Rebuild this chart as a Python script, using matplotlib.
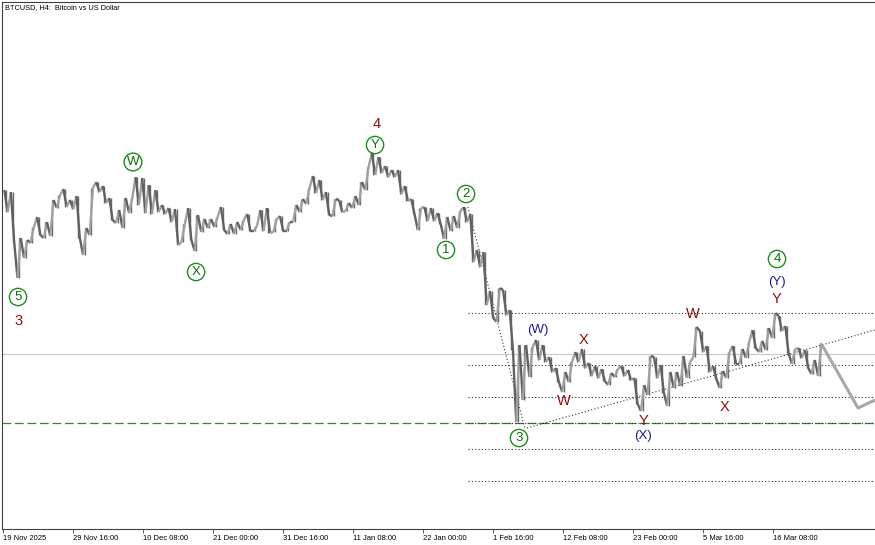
import matplotlib
matplotlib.use('Agg')
import matplotlib.pyplot as plt
from matplotlib.collections import LineCollection
import numpy as np

plt.rcParams['font.family'] = ['Liberation Sans', 'DejaVu Sans']

# daily high / low, 19 Nov 2025 .. 23 Mar 2026
highs = [93400, 93120, 86680, 86400, 88220, 89620, 88920, 92000, 92700, 93540,
         92000, 92560, 88080, 93680, 94520, 93960, 92280, 90600, 92280, 92280,
         95220, 95080, 94100, 93400, 91300, 90880, 90740, 88640, 90880, 89900,
         89340, 89340, 89620, 91020, 88640, 88920, 89200, 90040, 88360, 90600,
         90880, 89340, 89760, 88920, 91300, 92140, 93680, 95360, 94800, 93120,
         92140, 92000, 91580, 92560, 94520, 96620, 98580, 98020, 96760, 96200,
         96200, 93960, 92140, 90880, 91020, 90880, 90180, 89620, 89760, 90460,
         91020, 90040, 85000, 84720, 79260, 79680, 79400, 76600, 71700, 71700,
         71420, 72400, 71700, 70020, 68480, 67920, 69320, 70720, 71140, 69180,
         68760, 68340, 67780, 68340, 68760, 68200, 67080, 66100, 70160, 70020,
         68900, 67920, 67920, 70160, 69320, 74220, 73660, 71560, 68760, 68060,
         70720, 71560, 71140, 72120, 73800, 72260, 74080, 76180, 75760, 74360,
         71140, 71280, 71000, 69600, 71980]
lows = [90320, 86120, 81080, 83880, 85980, 87100, 86680, 86960, 90880, 91020,
        90740, 86680, 84300, 87100, 93120, 91580, 89200, 88780, 88080, 90180,
        91300, 90180, 90040, 90320, 90040, 88920, 85700, 86120, 86400, 84860,
        87520, 88080, 88220, 87800, 87240, 87240, 87800, 87660, 87660, 87660,
        87380, 87520, 87660, 87660, 88920, 90320, 91440, 92980, 92000, 89900,
        89760, 90320, 90460, 90880, 91300, 93400, 95500, 95780, 95220, 95220,
        92840, 91860, 90040, 87800, 89060, 89060, 88640, 86540, 87660, 88080,
        88920, 83320, 82620, 77300, 75480, 74920, 75900, 71000, 60920, 64000,
        67220, 69600, 69320, 67920, 66520, 65120, 66520, 69320, 68480, 67360,
        67080, 66660, 66100, 67220, 67360, 66800, 63440, 62460, 64700, 67080,
        64980, 63160, 65680, 65960, 67080, 70020, 70720, 67920, 66940, 65680,
        67080, 69040, 69040, 69880, 71280, 70720, 71000, 72680, 73660, 70580,
        69040, 69880, 68480, 67640, 67360]

tick_labels = ['19 Nov 2025', '29 Nov 16:00', '10 Dec 08:00', '21 Dec 00:00',
               '31 Dec 16:00', '11 Jan 08:00', '22 Jan 00:00', '1 Feb 16:00',
               '12 Feb 08:00', '23 Feb 00:00', '5 Mar 16:00', '16 Mar 08:00']

bid_price = 70440
support = 60780
fib_levels = [76180, 68900, 64420, 60780, 57140, 52660]
fib_start = 425

# trend lines (bar index, price)
line_23 = ([425.4, 477.5], [91020, 59940])
line_base = ([479.4, 797.5], [60080, 73800])
forecast = ([749.1, 782, 797.5], [71700, 62880, 64000])

# wave marks: (bar, price, text, kind)
waves = [
    (14.0, 78420, '5', 'circ'), (14.9, 75060, '3', 'red'),
    (119.1, 97320, 'W', 'circ'), (176.8, 81920, 'X', 'circ'),
    (342.2, 102640, '4', 'red'), (340.4, 99700, 'Y', 'circ'),
    (423.6, 92840, '2', 'circ'), (405.3, 85000, '1', 'circ'),
    (472.0, 58680, '3', 'circ'), (707.9, 83740, '4', 'circ'),
    (707.9, 80520, '(Y)', 'blue'), (707.9, 78140, 'Y', 'red'),
    (489.4, 73800, '(W)', 'blue'), (530.6, 72400, 'X', 'red'),
    (513.2, 63860, 'W', 'red'), (585.4, 61060, 'Y', 'red'),
    (585.4, 58960, '(X)', 'blue'), (631.1, 76040, 'W', 'red'),
    (660.4, 63020, 'X', 'red'),
]

fig = plt.figure(figsize=(8.75, 5.45), dpi=100)
ax = fig.add_axes([2 / 875, 16 / 545, 873 / 875, 527 / 545])

ax.axhline(bid_price, color='#c8c8c8', lw=0.8, zorder=1)
ax.axhline(support, color='#2e8b2e', lw=0.9, dashes=(7, 3), zorder=1)
ax.hlines(fib_levels, fib_start, 800, color='#303030', lw=0.8,
          linestyles=(0, (1, 2)), zorder=1)
ax.plot(*line_23, color='#303030', lw=0.8, ls=(0, (1, 2)), zorder=1)
ax.plot(*line_base, color='#303030', lw=0.8, ls=(0, (1, 2)), zorder=1)

# price path: each day goes through its low and high
xs, ys = [], []
n = len(highs)
for d in range(n):
    mid = (highs[d] + lows[d]) / 2
    nxt = (highs[d + 1] + lows[d + 1]) / 2 if d + 1 < n else highs[d]
    if nxt > mid:
        a, b = lows[d], highs[d]
    else:
        a, b = highs[d], lows[d]
    xs += [6 * d + 1.5, 6 * d + 4.5]
    ys += [a, b]
pts = np.column_stack([xs, ys])
segs = np.stack([pts[:-1], pts[1:]], axis=1)
cols = ['#a0a0a0' if s[1][1] > s[0][1] else '#616161' for s in segs]
ax.vlines(np.arange(n) * 6 + 3, lows, highs, color='#6a6a6a', lw=1.0, zorder=2)
ax.add_collection(LineCollection(segs, colors=cols, linewidths=1.7, zorder=3))

ax.plot(*forecast, color='#a8a8a8', lw=2.2, solid_capstyle='butt', zorder=3)

for bx, py, txt, kind in waves:
    if kind == 'circ':
        ax.text(bx, py, txt, color='#0a6e0a', fontsize=9.5, ha='center', va='center',
                zorder=5, bbox=dict(boxstyle='circle,pad=0.2', fc='none',
                                    ec='#1e8c1e', lw=1.0))
    elif kind == 'red':
        ax.text(bx, py, txt, color='#8b0f0f', fontsize=10.5, ha='center',
                va='center', zorder=5)
    else:
        ax.text(bx, py, txt, color='#1c1c8a', fontsize=9.5, ha='center',
                va='center', zorder=5)

ax.set_xlim(-0.64, 797.5)
ax.set_ylim(45940, 119720)
ax.set_xticks(np.arange(len(tick_labels)) * 64)
ax.set_xticklabels(tick_labels)
for lbl in ax.get_xticklabels():
    lbl.set_horizontalalignment('left')
ax.tick_params(axis='x', direction='out', length=3, width=0.6, pad=1.5,
               labelsize=5.5, color='#404040')
ax.set_yticks([])
for side in ['left', 'top', 'bottom']:
    ax.spines[side].set_color('#404040')
    ax.spines[side].set_linewidth(0.8)
ax.spines['right'].set_visible(False)

fig.text(5 / 875, 1 - 8 / 545, 'BTCUSD, H4:  Bitcoin vs US Dollar', fontsize=5.3,
         va='center', ha='left')

plt.savefig('out.png', dpi=100)
